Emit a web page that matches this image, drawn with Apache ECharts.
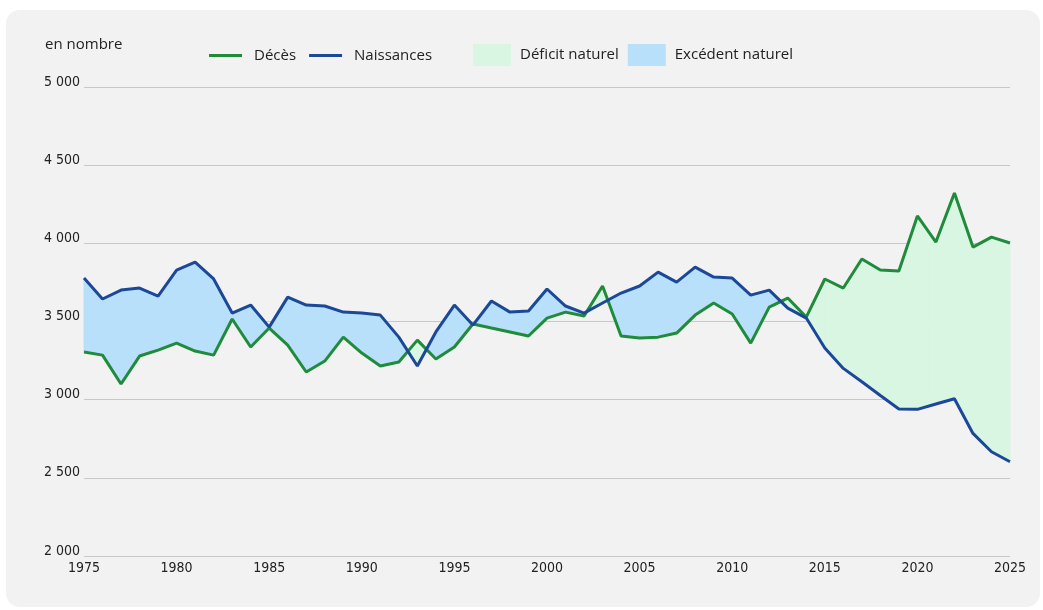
<!DOCTYPE html>
<html>
<head>
<meta charset="utf-8">
<script src="https://cdn.jsdelivr.net/npm/echarts@6/dist/echarts.min.js"></script>
<style>
  html, body { margin: 0; padding: 0; background: #fff; }
  #card { position: absolute; left: 6px; top: 10px; width: 1034px; height: 597px; background: #f2f2f2; border-radius: 14px; }
  #chart { position: absolute; left: 0; top: 0; width: 1043px; height: 610px; }
</style>
</head>
<body>
<div id="card"></div>
<div id="chart"></div>
<script>
// années 1975 - 2025
var years = [];
for (var y = 1975; y <= 2025; y++) years.push(y);

var naissances = [3778, 3644, 3701, 3714, 3663, 3829, 3880, 3772, 3554, 3605,
                  3464, 3656, 3605, 3599, 3560, 3554, 3541, 3400, 3215, 3433,
                  3605, 3477, 3631, 3560, 3567, 3708, 3599, 3554, 3618, 3682,
                  3727, 3816, 3752, 3848, 3784, 3778, 3669, 3701, 3586, 3522,
                  3331, 3200, 3115, 3027, 2940, 2938, 2972, 3006, 2784, 2667, 2603];

var deces = [3305, 3285, 3100, 3279, 3317, 3362, 3311, 3285, 3516, 3337,
             3458, 3349, 3177, 3247, 3400, 3298, 3215, 3241, 3381, 3260,
             3337, 3484, 3458, 3433, 3407, 3522, 3560, 3535, 3727, 3407,
             3394, 3400, 3426, 3541, 3618, 3548, 3362, 3592, 3650, 3528,
             3772, 3714, 3900, 3829, 3823, 4175, 4008, 4322, 3976, 4040, 4002];

var xTicks = [1975, 1980, 1985, 1990, 1995, 2000, 2005, 2010, 2015, 2020, 2025];

var colDeces = '#1f8b3b';
var colNaiss = '#1b4899';
var colDeficit = '#d8f6e1';
var colExcedent = '#b8e0fb';

// segments entre deux années consécutives
var segments = [];
for (var i = 0; i < years.length - 1; i++) {
  segments.push([years[i], naissances[i], deces[i], years[i + 1], naissances[i + 1], deces[i + 1]]);
}

// sign = 1 : naissances > décès (excédent), -1 : déficit
function makeRender(sign, color) {
  return function (params, api) {
    var x0 = api.value(0), b0 = api.value(1), d0 = api.value(2);
    var x1 = api.value(3), b1 = api.value(4), d1 = api.value(5);
    var pb0 = api.coord([x0, b0]), pd0 = api.coord([x0, d0]);
    var pb1 = api.coord([x1, b1]), pd1 = api.coord([x1, d1]);
    var g0 = sign * (b0 - d0), g1 = sign * (b1 - d1);
    var pts = null;
    if (g0 >= 0 && g1 >= 0) {
      pts = [pb0, pb1, pd1, pd0];
    } else if (g0 > 0 || g1 > 0) {
      var t = g0 / (g0 - g1);
      var c = [pb0[0] + t * (pb1[0] - pb0[0]), pb0[1] + t * (pb1[1] - pb0[1])];
      pts = g0 > 0 ? [pb0, c, pd0] : [c, pb1, pd1];
    }
    if (!pts) return null;
    return {
      type: 'polygon',
      shape: { points: pts },
      style: { fill: color, stroke: color, lineWidth: 1 }
    };
  };
}

var chart = echarts.init(document.getElementById('chart'));
var option = {
  animation: false,
  backgroundColor: 'transparent',
  textStyle: { fontFamily: 'Open Sans' },
  graphic: [{
    type: 'text', left: 45, top: 37,
    style: { text: 'en nombre', fontSize: 15, fontFamily: 'Open Sans', fill: '#222' }
  }],
  legend: [{
    left: 209, top: 48, padding: 0,
    icon: 'rect', itemWidth: 33, itemHeight: 3, itemGap: 13,
    textStyle: { fontSize: 15, color: '#222', fontFamily: 'Open Sans', padding: [0, 0, 0, 7] },
    data: ['Décès', 'Naissances'],
    selectedMode: false
  }, {
    left: 473, top: 44, padding: 0,
    icon: 'rect', itemWidth: 38, itemHeight: 22, itemGap: 9,
    textStyle: { fontSize: 15, color: '#222', fontFamily: 'Open Sans', padding: [0, 0, 0, 4] },
    data: ['Déficit naturel', 'Excédent naturel'],
    selectedMode: false
  }],
  grid: { left: 84, right: 33, top: 87, bottom: 54 },
  xAxis: {
    type: 'value', min: 1975, max: 2025, interval: 5,
    axisLine: { show: false }, axisTick: { show: false }, splitLine: { show: false },
    axisLabel: {
      margin: 5, fontSize: 14, color: '#222', fontFamily: 'DejaVu Sans Condensed',
      customValues: xTicks,
      formatter: function (v) { return String(v); }
    }
  },
  yAxis: {
    type: 'value', min: 2000, max: 5000, interval: 500,
    axisLine: { show: false }, axisTick: { show: false },
    splitLine: { lineStyle: { color: '#c8c8c8', width: 1 } },
    axisLabel: {
      margin: 4, fontSize: 14, color: '#222', fontFamily: 'DejaVu Sans Condensed',
      verticalAlign: 'bottom', padding: [0, 0, -2, 0],
      formatter: function (v) { return String(v).replace(/\B(?=(\d{3})+(?!\d))/g, ' '); }
    }
  },
  series: [{
    name: 'Déficit naturel', type: 'custom', z: 1,
    itemStyle: { color: colDeficit },
    encode: { x: [0, 3], y: [1, 2, 4, 5] },
    renderItem: makeRender(-1, colDeficit),
    data: segments
  }, {
    name: 'Excédent naturel', type: 'custom', z: 1,
    itemStyle: { color: colExcedent },
    encode: { x: [0, 3], y: [1, 2, 4, 5] },
    renderItem: makeRender(1, colExcedent),
    data: segments
  }, {
    name: 'Décès', type: 'line', z: 3,
    symbol: 'none',
    lineStyle: { color: colDeces, width: 3 },
    itemStyle: { color: colDeces },
    data: years.map(function (y, i) { return [y, deces[i]]; })
  }, {
    name: 'Naissances', type: 'line', z: 3,
    symbol: 'none',
    lineStyle: { color: colNaiss, width: 3 },
    itemStyle: { color: colNaiss },
    data: years.map(function (y, i) { return [y, naissances[i]]; })
  }]
};
chart.setOption(option);
</script>
</body>
</html>
